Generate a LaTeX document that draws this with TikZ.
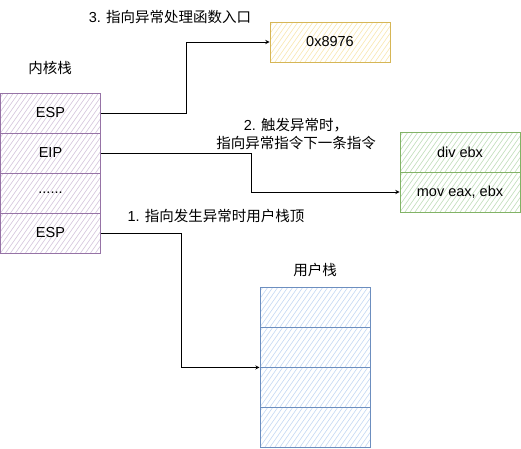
\documentclass[tikz,border=0pt]{standalone}
\usepackage{fontspec}
\setmainfont{Liberation Sans}
\newfontfamily\cjk{Noto Sans CJK SC}

\definecolor{kernLine}{HTML}{9673A6}
\definecolor{kernFill}{HTML}{D3C3DB}
\definecolor{entryLine}{HTML}{D6B656}
\definecolor{entryFill}{HTML}{F8E6B0}
\definecolor{insnLine}{HTML}{82B366}
\definecolor{insnFill}{HTML}{BFDDB9}
\definecolor{userLine}{HTML}{6C8EBF}
\definecolor{userFill}{HTML}{C4D8F3}

\tikzset{
  cell/.style={draw, line width=0.9pt, inner sep=0pt, minimum height=40pt,
    font=\fontsize{14.5}{16}\selectfont},
  hatch/.style={path picture={
    \foreach \k in {-8,...,26}
      \draw[#1, line width=0.6pt] ([xshift=\k*5pt]path picture bounding box.south west) -- ++(28pt,40pt);
  }},
  kcell/.style={cell, draw=kernLine, hatch=kernFill, minimum width=100pt},
  ecell/.style={cell, draw=entryLine, hatch=entryFill, minimum width=120pt},
  icell/.style={cell, draw=insnLine, hatch=insnFill, minimum width=120pt},
  ucell/.style={cell, draw=userLine, hatch=userFill, minimum width=110pt},
  link/.style={-stealth, line width=0.9pt},
  caption/.style={font=\fontsize{14.5}{18}\selectfont, align=center}
}

\begin{document}
\begin{tikzpicture}[x=1pt, y=-1pt]
\useasboundingbox (0,0) rectangle (521,448);

% kernel stack
\node[caption] (kernTitle) at (50,68) {\cjk 内核栈};
\node[kcell] (ksEsp)  at (50.5,113) {ESP};
\node[kcell] (ksEip)  at (50.5,153) {EIP};
\node[kcell] (ksDots) at (50.5,193) {......};
\node[kcell] (ksUsp)  at (50.5,233) {ESP};

% handler entry
\node[ecell] (handler) at (330,42) {0x8976};

% instructions
\node[icell] (divInsn) at (460,152) {div ebx};
\node[icell] (movInsn) at (460,192) {mov eax, ebx};

% user stack
\node[caption] (userTitle) at (315,270) {\cjk 用户栈};
\foreach \i/\y in {1/307, 2/347, 3/387, 4/427}
  \node[ucell] (us\i) at (315,\y) {};

% pointers
\draw[link] (ksEsp.east) -- ++(85,0) |- (handler.west);
\node[caption] (entryLabel) at (170,17) {3. {\cjk 指向异常处理函数入口}};

\draw[link] (ksEip.east) -- ++(150,0) |- (movInsn.west);
\node[caption] (nextLabel) at (296,134) {2. {\cjk 触发异常时，}\\{\cjk 指向异常指令下一条指令}};

\draw[link] (ksUsp.east) -- ++(80,0) |- (us2.south west);
\node[caption] (topLabel) at (216,216) {1. {\cjk 指向发生异常时用户栈顶}};

\end{tikzpicture}
\end{document}
